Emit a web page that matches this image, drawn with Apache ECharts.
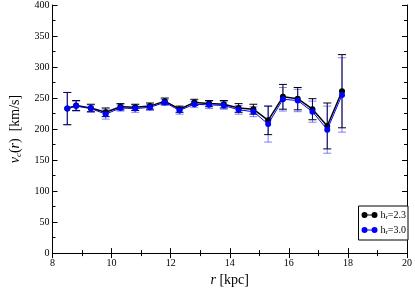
<!DOCTYPE html>
<html><head><meta charset="utf-8">
<script src="https://cdn.jsdelivr.net/npm/echarts@6/dist/echarts.min.js"></script>
<style>html,body{margin:0;padding:0;background:#fff}#c{width:415px;height:292px}</style>
</head><body><div id="c"></div>
<script>
const radius = [8.5, 8.8, 9.3, 9.8, 10.3, 10.8, 11.3, 11.8, 12.3, 12.8, 13.3, 13.8, 14.3, 14.8, 15.3, 15.8, 16.3, 16.8, 17.3, 17.8];
const vc23 = [233, 238, 234, 227, 236, 235, 237, 245, 232, 243, 241, 240, 234, 232, 214, 252, 249, 232, 205, 261];
const err23 = [26, 8, 6, 7, 5, 5, 5, 5, 5, 5, 5, 6, 7, 8, 23, 20, 18, 17, 37, 59];
const vc30 = [233, 237, 233, 224, 234, 233, 235, 243, 230, 240, 239, 238, 231, 228, 208, 248, 246, 228, 199, 255];
const err30 = [26, 8, 6, 8, 5, 6, 5, 5, 6, 5, 6, 6, 7, 8, 29, 19, 18, 17, 38, 60];
const names = ['h_r=2.3', 'h_r=3.0'];
const xTicks = [8, 10, 12, 14, 16, 18, 20];
const yTicks = [0, 50, 100, 150, 200, 250, 300, 350, 400];

const FONT = '"Liberation Serif","DejaVu Serif",serif';
const pts = (v) => radius.map((r, i) => [r, v[i]]);
const errs = (v, e) => radius.map((r, i) => [r, v[i] - e[i], v[i] + e[i]]);

function errRender(color, opacity) {
  return function (params, api) {
    const x = api.value(0), lo = api.value(1), hi = api.value(2);
    const p1 = api.coord([x, lo]), p2 = api.coord([x, hi]);
    const w = 4;
    const st = { stroke: color, lineWidth: 1, opacity: opacity };
    return { type: 'group', children: [
      { type: 'line', shape: { x1: p1[0], y1: p1[1], x2: p2[0], y2: p2[1] }, style: st },
      { type: 'line', shape: { x1: p1[0] - w, y1: p1[1], x2: p1[0] + w, y2: p1[1] }, style: st },
      { type: 'line', shape: { x1: p2[0] - w, y1: p2[1], x2: p2[0] + w, y2: p2[1] }, style: st }
    ]};
  };
}

const axisCommon = {
  axisLine: { show: true, lineStyle: { color: '#000', width: 1 } },
  axisTick: { show: true, inside: true, length: 5, lineStyle: { color: '#000' } },
  minorTick: { show: true, splitNumber: 2, length: 3, lineStyle: { color: '#000' } },
  splitLine: { show: false },
  minorSplitLine: { show: false }
};

const ICON = 'path://M0,3A3,3 0 1,1 6,3A3,3 0 1,1 0,3ZM3,2.5L13,2.5L13,3.5L3,3.5ZM10,3A3,3 0 1,1 16,3A3,3 0 1,1 10,3Z';

const chart = echarts.init(document.getElementById('c'), null, { renderer: 'canvas' });
chart.setOption({
  animation: false,
  backgroundColor: '#fff',
  grid: { left: 40, right: 7, top: 5, bottom: 30, containLabel: false },
  xAxis: [
    Object.assign({}, axisCommon, {
      type: 'value', min: xTicks[0], max: xTicks[xTicks.length - 1], interval: 2, position: 'bottom',
      axisLabel: { color: '#000', fontFamily: FONT, fontSize: 10, margin: 5 },
      name: '{i|r} [kpc]', nameLocation: 'middle', nameGap: 16,
      nameTextStyle: { fontFamily: FONT, fontSize: 14, color: '#000',
        rich: { i: { fontFamily: FONT, fontStyle: 'italic', fontSize: 14, color: '#000' } } }
    }),
    Object.assign({}, axisCommon, {
      type: 'value', min: 8, max: 20, interval: 2, position: 'top',
      axisLabel: { show: false }
    })
  ],
  yAxis: [
    Object.assign({}, axisCommon, {
      type: 'value', min: yTicks[0], max: yTicks[yTicks.length - 1], interval: 50, position: 'left',
      axisLabel: { color: '#000', fontFamily: FONT, fontSize: 10, margin: 3 },
      name: '{i|v}{s|c}{n|(}{i|r}{n|)  [km/s]}', nameLocation: 'middle', nameGap: 29, nameRotate: 90,
      nameTextStyle: { fontFamily: FONT, fontSize: 14, color: '#000',
        rich: {
          i: { fontFamily: FONT, fontStyle: 'italic', fontSize: 14, color: '#000' },
          s: { fontFamily: FONT, fontStyle: 'italic', fontSize: 9, color: '#000', verticalAlign: 'bottom', padding: [8, 0, 0, 0] },
          n: { fontFamily: FONT, fontSize: 14, color: '#000' }
        } }
    }),
    Object.assign({}, axisCommon, {
      type: 'value', min: 0, max: 400, interval: 50, position: 'right',
      axisLabel: { show: false }
    })
  ],
  legend: {
    right: 7, top: 206, orient: 'vertical',
    backgroundColor: '#fff', borderColor: '#000', borderWidth: 1, borderRadius: 0,
    padding: [4, 2, 4, 3], itemGap: 4, itemWidth: 16, itemHeight: 6,
    data: [
      { name: names[0], icon: ICON },
      { name: names[1], icon: ICON }
    ],
    formatter: function (n) { const p = n.split('_'); const q = p[1].split('='); return 'h{s|' + q[0] + '}=' + q[1]; },
    textStyle: { fontFamily: FONT, fontSize: 10, color: '#000', padding: [0, 0, 0, -2],
      rich: { s: { fontFamily: FONT, fontSize: 7, color: '#000', padding: [5, 0, 0, 0] } } }
  },
  series: [
    { type: 'custom', name: 'err23', renderItem: errRender('#000', 1), data: errs(vc23, err23), z: 1, silent: true },
    { type: 'custom', name: 'err30', renderItem: errRender('#0000ff', 0.5), data: errs(vc30, err30), z: 2, silent: true },
    { type: 'line', name: names[0], data: pts(vc23), symbol: 'circle', symbolSize: 6,
      itemStyle: { color: '#000' }, lineStyle: { color: '#000', width: 1.5 }, z: 3 },
    { type: 'line', name: names[1], data: pts(vc30), symbol: 'circle', symbolSize: 6,
      itemStyle: { color: '#0000ff' }, lineStyle: { color: '#0000ff', width: 1 }, z: 4 }
  ]
});
</script></body></html>
